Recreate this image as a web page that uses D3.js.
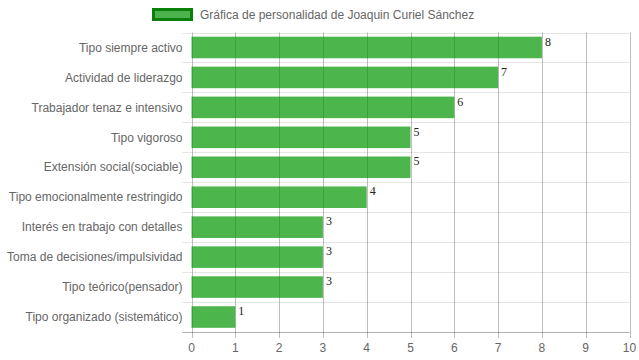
<!DOCTYPE html>
<html><head><meta charset="utf-8">
<script src="https://cdn.jsdelivr.net/npm/d3@7"></script>
<style>body{margin:0;background:#fff;}svg{display:block;}</style>
</head><body>
<script>
const categories = ["Tipo siempre activo","Actividad de liderazgo","Trabajador tenaz e intensivo","Tipo vigoroso","Extensión social(sociable)","Tipo emocionalmente restringido","Interés en trabajo con detalles","Toma de decisiones/impulsividad","Tipo teórico(pensador)","Tipo organizado (sistemático)"];
const values = [8,7,6,5,5,4,3,3,3,1];
const xTicks = [0,1,2,3,4,5,6,7,8,9,10];
const legendLabel = "Gráfica de personalidad de Joaquin Curiel Sánchez";

const W = 639, H = 360;
const m = {left:191.5, right:9.5, top:32.5, bottom:28};
const svg = d3.select("body").append("svg").attr("width",W).attr("height",H);
const x = d3.scaleLinear().domain([0,10]).range([m.left, W-m.right]);
const y = d3.scaleBand().domain(categories).range([m.top, H-m.bottom]);
const font = "Liberation Sans, Arial, sans-serif";

// horizontal grid lines (category boundaries)
const bounds = categories.map(c=>y(c)).concat([y.range()[1]]);
svg.append("g").selectAll("line").data(bounds).join("line")
  .attr("x1", m.left-9).attr("x2", W-m.right)
  .attr("y1", d=>Math.round(d)+0.5).attr("y2", d=>Math.round(d)+0.5)
  .attr("stroke", (d,i)=> i===bounds.length-1 ? "rgba(0,0,0,0.3)" : "rgba(0,0,0,0.1)");

// vertical grid lines
svg.append("g").selectAll("line").data(xTicks).join("line")
  .attr("x1", d=>Math.round(x(d))+0.5).attr("x2", d=>Math.round(x(d))+0.5)
  .attr("y1", m.top).attr("y2", H-m.bottom+6)
  .attr("stroke", "rgba(0,0,0,0.25)");

// bars
const bh = y.bandwidth()*0.72;
svg.append("g").selectAll("rect").data(values).join("rect")
  .attr("x", x(0)).attr("y", (d,i)=> y(categories[i]) + (y.bandwidth()-bh)/2)
  .attr("width", d=> x(d)-x(0)).attr("height", bh)
  .attr("fill", "rgba(0,150,0,0.7)");

// value labels
svg.append("g").selectAll("text").data(values).join("text")
  .attr("x", d=> x(d)+3).attr("y", (d,i)=> y(categories[i]) + (y.bandwidth()-bh)/2 + 9)
  .attr("font-family","Liberation Serif, Times New Roman, serif").attr("font-size",12)
  .attr("fill","#222").text(d=>d);

// category labels
svg.append("g").selectAll("text").data(categories).join("text")
  .attr("x", m.left-9).attr("y", d=> y(d)+y.bandwidth()/2)
  .attr("dy","0.35em").attr("text-anchor","end")
  .attr("font-family",font).attr("font-size",12).attr("fill","#666").text(d=>d);

// x tick labels
svg.append("g").selectAll("text").data(xTicks).join("text")
  .attr("x", d=> x(d)).attr("y", H-m.bottom+20)
  .attr("text-anchor","middle")
  .attr("font-family",font).attr("font-size",12).attr("fill","#666").text(d=>d);

// legend
const lg = svg.append("g");
lg.append("rect").attr("x",153.5).attr("y",9.5).attr("width",38).attr("height",10)
  .attr("fill","#4cb34c").attr("stroke","#0a7f0a").attr("stroke-width",3);
lg.append("text").attr("x",200).attr("y",18.5)
  .attr("font-family",font).attr("font-size",12).attr("fill","#666").text(legendLabel);
</script>
</body></html>
